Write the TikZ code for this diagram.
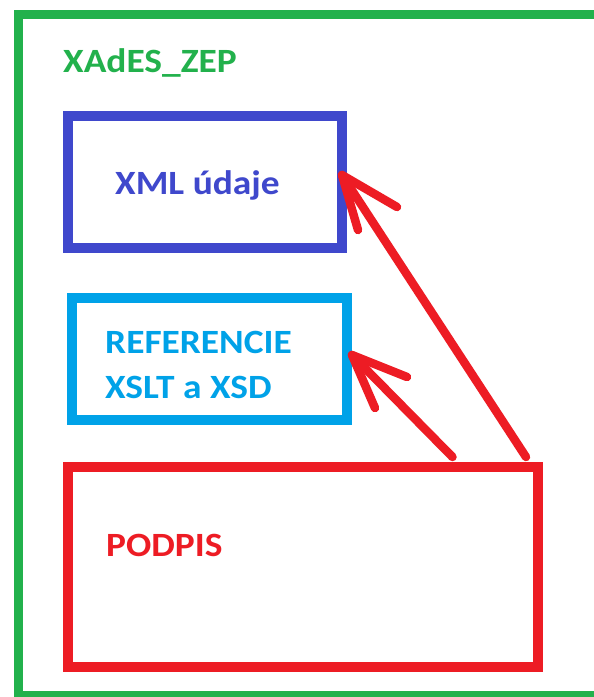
\documentclass[tikz,border=0pt]{standalone}
\usepackage{fontspec}
\setmainfont[FakeStretch=1.1]{Carlito}
\usetikzlibrary{calc}
\definecolor{pgreen}{HTML}{22B14C}
\definecolor{pblue}{HTML}{3F48CC}
\definecolor{pcyan}{HTML}{00A2E8}
\definecolor{pred}{HTML}{ED1C24}
\tikzset{
  boxstyle/.style={draw, rectangle, inner sep=0pt, line width=10pt},
  labelstyle/.style={anchor=base west, inner sep=0pt, font=\fontsize{34}{45}\selectfont\bfseries, align=left},
  redline/.style={draw=pred, line width=8.5pt, line cap=round, line join=round}
}
\begin{document}
\begin{tikzpicture}[x=1pt, y=-1pt]
\useasboundingbox[fill=white] (0,0) rectangle (594,697);
% outer green frame
\node[boxstyle, draw=pgreen, line width=9pt, minimum width=592pt, minimum height=681pt] (frame) at (314,354.5) {};
% boxes
\node[boxstyle, draw=pblue, minimum width=274pt, minimum height=132pt] (xml) at (205,182) {};
\node[boxstyle, draw=pcyan, minimum width=275pt, minimum height=122pt] (ref) at (209.5,359) {};
\node[boxstyle, draw=pred, minimum width=470.5pt, minimum height=200pt] (podpis) at (302.75,567) {};
% labels
\node[labelstyle, text=pgreen] (title) at (63,72) {XAdES\_ZEP};
\node[labelstyle, text=pblue] (xmltext) at (115,194) {XML údaje};
\node[labelstyle, text=pcyan] (reftext) at (105,353) {REFERENCIE};
\node[labelstyle, text=pcyan] (reftext2) at (105,398) {XSLT a XSD};
\node[labelstyle, text=pred] (podpistext) at (106,556) {PODPIS};
% arrow coordinates
\coordinate (tail1) at ($(podpis.north east)+(-17,-5)$);
\coordinate (tip1) at ($(xml.east)+(-5,-7)$);
\coordinate (tail2) at ($(podpis.north west)+(390,-5)$);
\coordinate (tip2) at ($(ref.east)+(0,-4)$);
% arrows
\draw[redline] (tail1) -- (tip1);
\draw[redline] ($(tip1)+(55,32)$) -- (tip1) -- ($(tip1)+(16,55)$);
\draw[redline] (tail2) -- (tip2);
\draw[redline] ($(tip2)+(55,22)$) -- (tip2) -- ($(tip2)+(23,53)$);
\end{tikzpicture}
\end{document}
